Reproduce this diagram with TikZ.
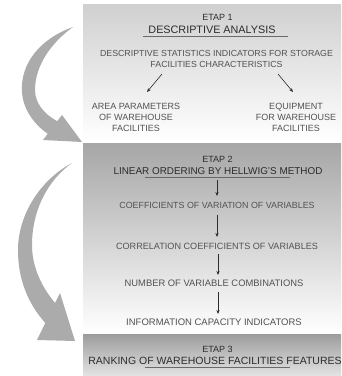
\documentclass[tikz,border=0pt]{standalone}
\usepackage{fontspec}
\setmainfont{Liberation Sans}
\usetikzlibrary{arrows.meta}
\definecolor{hdrc}{HTML}{2C2C2C}
\definecolor{txtc}{HTML}{525252}
\definecolor{bigarr}{HTML}{ABABAB}
\definecolor{ponetop}{HTML}{D0D0D0}
\definecolor{ptwotop}{HTML}{A6A6A6}
\definecolor{pthreetop}{HTML}{9C9C9C}
\definecolor{pthreebot}{HTML}{E4E4E4}
\definecolor{rulec}{HTML}{6A6A6A}
\newcommand{\fsz}[1]{\fontsize{#1}{11.3}\selectfont}
\begin{document}
\begin{tikzpicture}[x=1pt,y=-1pt,
  hdr/.style={text=hdrc, inner sep=0pt},
  etap/.style={font=\fsz{9}, text=hdrc, inner sep=0pt},
  body/.style={text=txtc, inner sep=0pt, align=center},
  smallarr/.style={draw=hdrc, line width=0.6pt, -{Stealth[length=4pt,width=3.2pt]}},
  ulinestyle/.style={draw=rulec, line width=0.7pt},
  bigarrow/.style={fill=bigarr, draw=none}]
\useasboundingbox (0,0) rectangle (342,376);
\fill[white] (0,0) rectangle (342,376);
% panels
\shade[top color=ponetop, bottom color=white] (83,4) rectangle (341,141);
\shade[top color=ptwotop, bottom color=white] (83,143) rectangle (341,333);
\shade[top color=pthreetop, bottom color=pthreebot] (83,334) rectangle (341,376);
% big curved arrows
\path[bigarrow] (73,27) .. controls (42,38) and (20,62) .. (22,92)
  .. controls (23,110) and (35,125) .. (47.75,133.75) -- (43,140) -- (82,142) -- (62,115)
  -- (57.25,121.25) .. controls (44,114) and (35,103) .. (35,90)
  .. controls (35,65) and (52,42) .. (73,27) -- cycle;
\path[bigarrow] (72,163) .. controls (40,180) and (18,215) .. (18,250)
  .. controls (18,285) and (32,308) .. (45.3,323) -- (37,340) -- (75,341) -- (60,293)
  -- (55.1,303) .. controls (40,285) and (32,265) .. (32,245)
  .. controls (32,210) and (48,180) .. (72,163) -- cycle;
% panel 1
\node[etap] (e1) at (217.5,17) {ETAP 1};
\node[hdr, font=\fsz{10.8}] (t1) at (212,29.5) {DESCRIPTIVE ANALYSIS};
\coordinate (u1a) at (143,36);
\coordinate (u1b) at (288,36);
\draw[ulinestyle] (u1a) -- (u1b);
\node[body, font=\fsz{8.8}] (d1) at (216.5,53.5) {DESCRIPTIVE STATISTICS INDICATORS FOR STORAGE};
\node[body, font=\fsz{8.8}] (d2) at (216.5,64.5) {FACILITIES CHARACTERISTICS};
\node[body, font=\fsz{9}] (area) at (136,117.3) {AREA PARAMETERS\\OF WAREHOUSE\\FACILITIES};
\node[body, font=\fsz{9}] (equip) at (296,117.3) {EQUIPMENT\\FOR WAREHOUSE\\FACILITIES};
\coordinate (la) at (162,74);
\coordinate (lb) at (147,92);
\coordinate (ra) at (278,74);
\coordinate (rb) at (293,92);
\draw[smallarr] (la) -- (lb);
\draw[smallarr] (ra) -- (rb);
% panel 2
\node[etap] (e2) at (217.5,159) {ETAP 2};
\node[hdr, font=\fsz{9.9}] (t2) at (218,171) {LINEAR ORDERING BY HELLWIG'S METHOD};
\coordinate (u2a) at (145,177.3);
\coordinate (u2b) at (290,177.3);
\draw[ulinestyle] (u2a) -- (u2b);
\node[body, font=\fsz{8.9}] (c1) at (217,205.3) {COEFFICIENTS OF VARIATION OF VARIABLES};
\node[body, font=\fsz{9.1}] (c2) at (217,246.3) {CORRELATION COEFFICIENTS OF VARIABLES};
\node[body, font=\fsz{9.4}] (c3) at (214,283.3) {NUMBER OF VARIABLE COMBINATIONS};
\node[body, font=\fsz{9.5}] (c4) at (214,322.7) {INFORMATION CAPACITY INDICATORS};
\coordinate (a1s) at (217,180);
\coordinate (a1e) at (217,196);
\draw[smallarr] (a1s) -- (a1e);
\coordinate (a2s) at (217,215);
\coordinate (a2e) at (217,237);
\draw[smallarr] (a2s) -- (a2e);
\coordinate (a3s) at (218,254);
\coordinate (a3e) at (218,275);
\draw[smallarr] (a3s) -- (a3e);
\coordinate (a4s) at (218,292);
\coordinate (a4e) at (218,314);
\draw[smallarr] (a4s) -- (a4e);
% panel 3
\node[etap] (e3) at (217.5,349) {ETAP 3};
\node[hdr, font=\fsz{10.5}] (t3) at (215,360.5) {RANKING OF WAREHOUSE FACILITIES FEATURES};
\coordinate (u3a) at (145,367.3);
\coordinate (u3b) at (290,367.3);
\draw[ulinestyle] (u3a) -- (u3b);
\end{tikzpicture}
\end{document}
